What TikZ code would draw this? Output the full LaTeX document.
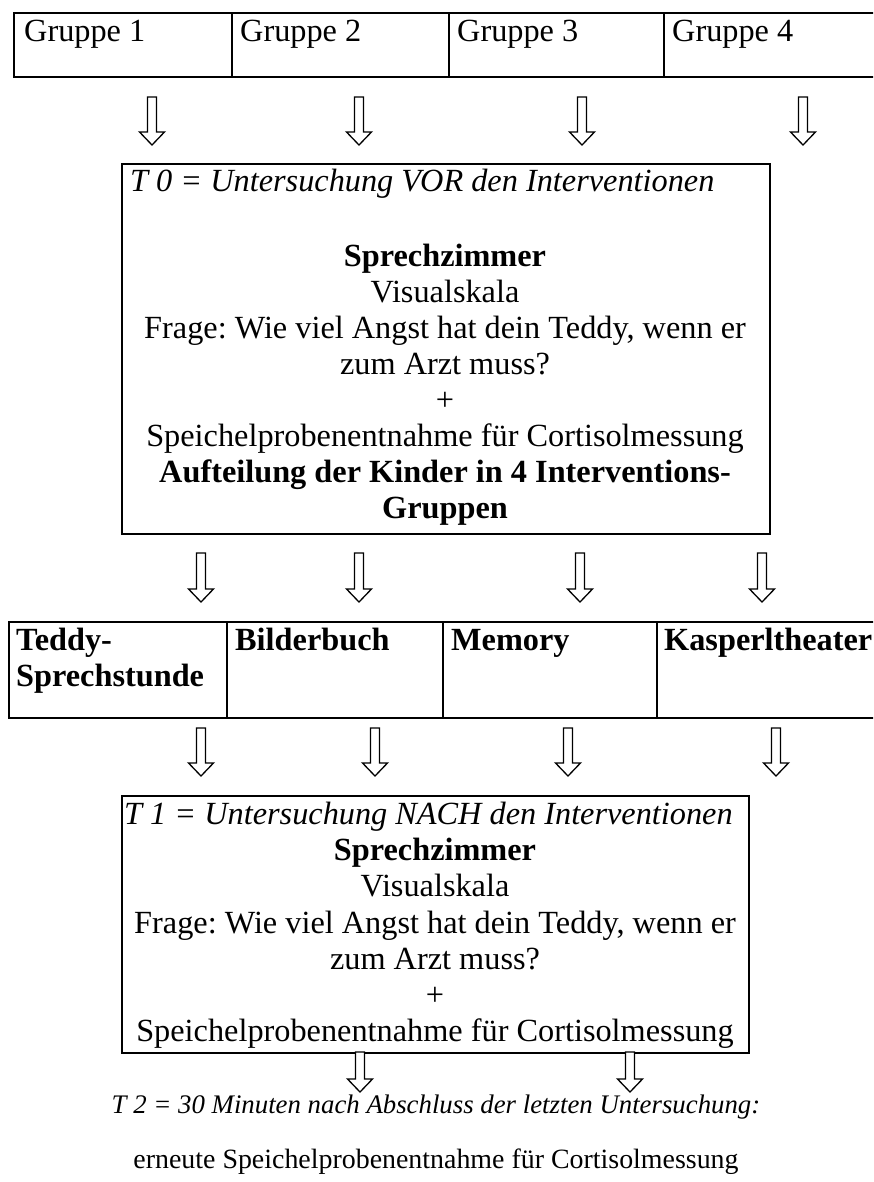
\documentclass[tikz,border=0pt]{standalone}
\usepackage{fontspec}
\setmainfont{Liberation Serif}
\newcommand\fs{\fontsize{32.3}{36.2}\selectfont\frenchspacing}
\newcommand\fsmall{\fontsize{27.9}{33}\selectfont\frenchspacing}
\newcommand\fsit{\fontsize{26.8}{33}\selectfont\frenchspacing}
\tikzset{
  cell/.style={draw, line width=1.8pt, inner sep=0pt, anchor=north west},
  txt/.style={inner sep=0pt, font=\fs},
  pics/barrow/.style={code={
    \draw[line width=1.3pt, fill=white, line join=miter]
      (-4.5,0) -- (4.5,0) -- (4.5,#1-13) -- (12.5,#1-13) -- (0,#1)
      -- (-12.5,#1-13) -- (-4.5,#1-13) -- cycle;}}
}
\begin{document}
\begin{tikzpicture}[x=1pt,y=-1pt]
\useasboundingbox (0,0) rectangle (873,1182);
\clip (0,0) rectangle (873,1182);
% ---------- top table ----------
\node[cell, minimum width=218pt, minimum height=64pt] (g1) at (13,12) {};
\node[cell, minimum width=217pt, minimum height=64pt] (g2) at (231,12) {};
\node[cell, minimum width=215pt, minimum height=64pt] (g3) at (448,12) {};
\node[cell, minimum width=230pt, minimum height=64pt] (g4) at (663,12) {};
\node[txt, anchor=base west] (g1t) at (24,42) {Gruppe 1};
\node[txt, anchor=base west] (g2t) at (240,42) {Gruppe 2};
\node[txt, anchor=base west] (g3t) at (457,42) {Gruppe 3};
\node[txt, anchor=base west] (g4t) at (672,42) {Gruppe 4};
% arrows row 1
\pic at (152,97) {barrow=48};
\pic at (359,97) {barrow=48};
\pic at (582,97) {barrow=48};
\pic at (803,97) {barrow=48};
% ---------- T0 box ----------
\node[cell, minimum width=648pt, minimum height=370pt] (t0) at (121,163) {};
\node[txt, anchor=base west] (t0a) at (130,192) {\itshape T 0 = Untersuchung VOR den Interventionen};
\node[txt, anchor=base] (t0b) at (445,266) {\bfseries Sprechzimmer};
\node[txt, anchor=base] (t0c) at (445,302) {Visualskala};
\node[txt, anchor=base] (t0d) at (445,338) {Frage: Wie viel Angst hat dein Teddy, wenn er};
\node[txt, anchor=base] (t0e) at (445,374) {zum Arzt muss?};
\node[txt, anchor=base] (t0f) at (445,410) {+};
\node[txt, anchor=base] (t0g) at (445,446) {Speichelprobenentnahme für Cortisolmessung};
\node[txt, anchor=base] (t0h) at (445,482) {\bfseries Aufteilung der Kinder in 4 Interventions-};
\node[txt, anchor=base] (t0i) at (445,518) {\bfseries Gruppen};
% arrows row 2
\pic at (201,553) {barrow=49};
\pic at (359,553) {barrow=49};
\pic at (580,553) {barrow=49};
\pic at (762,553) {barrow=49};
% ---------- interventions table ----------
\node[cell, minimum width=218pt, minimum height=96pt] (i1) at (8,621) {};
\node[cell, minimum width=216pt, minimum height=96pt] (i2) at (226,621) {};
\node[cell, minimum width=214pt, minimum height=96pt] (i3) at (442,621) {};
\node[cell, minimum width=240pt, minimum height=96pt] (i4) at (656,621) {};
\node[txt, anchor=base west] (i1t) at (16,650) {\bfseries Teddy-};
\node[txt, anchor=base west] (i1u) at (16,686) {\bfseries Sprechstunde};
\node[txt, anchor=base west] (i2t) at (235,650) {\bfseries Bilderbuch};
\node[txt, anchor=base west] (i3t) at (451,650) {\bfseries Memory};
\node[txt, anchor=base west] (i4t) at (664,650) {\bfseries Kasperltheater};
% arrows row 3
\pic at (201,728) {barrow=48};
\pic at (375,728) {barrow=48};
\pic at (568,728) {barrow=48};
\pic at (776,728) {barrow=48};
% ---------- T1 box ----------
\node[cell, minimum width=627pt, minimum height=257pt] (t1) at (121,795) {};
\node[txt, anchor=base west] (t1a) at (124,824) {\itshape T 1 = Untersuchung NACH den Interventionen};
\node[txt, anchor=base] (t1b) at (435,860) {\bfseries Sprechzimmer};
\node[txt, anchor=base] (t1c) at (435,896) {Visualskala};
\node[txt, anchor=base] (t1d) at (435,933) {Frage: Wie viel Angst hat dein Teddy, wenn er};
\node[txt, anchor=base] (t1e) at (435,969) {zum Arzt muss?};
\node[txt, anchor=base] (t1f) at (435,1005) {+};
\node[txt, anchor=base] (t1g) at (435,1041) {Speichelprobenentnahme für Cortisolmessung};
% arrows to T2
\pic at (360,1052) {barrow=40};
\pic at (630,1052) {barrow=40};
% ---------- T2 ----------
\node[inner sep=0pt, anchor=base, font=\fsit\itshape] (t2a) at (436,1113) {T 2 = 30 Minuten nach Abschluss der letzten Untersuchung:};
\node[inner sep=0pt, anchor=base, font=\fsmall] (t2b) at (436,1168) {erneute Speichelprobenentnahme für Cortisolmessung};
\end{tikzpicture}
\end{document}
